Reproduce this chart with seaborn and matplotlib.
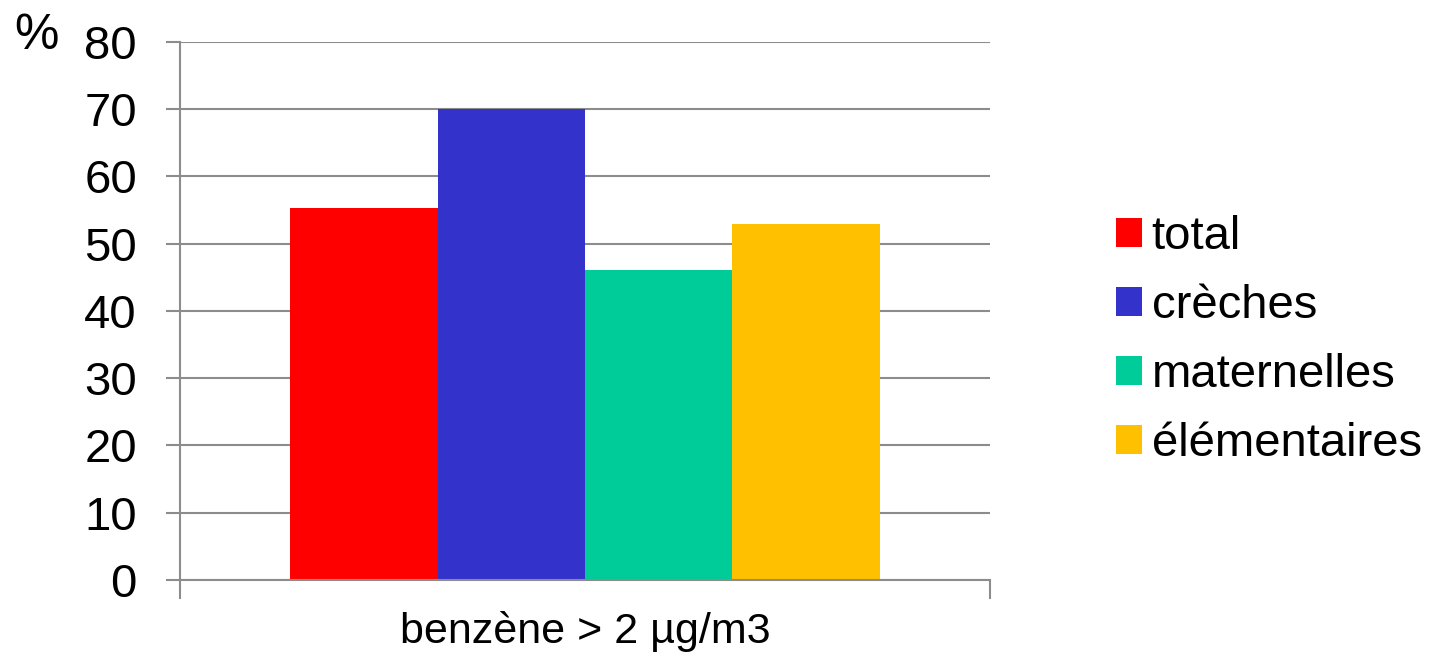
import matplotlib
matplotlib.use("Agg")
import matplotlib.pyplot as plt
import seaborn as sns
import pandas as pd
from matplotlib.patches import Patch

# Data
category = ["benzène > 2 µg/m3"]
groups = ["total", "crèches", "maternelles", "élémentaires"]
values = [55.3, 70.0, 46.1, 53.0]
colors = ["#FF0000", "#3333CC", "#00CC99", "#FFC000"]
yticks = [0, 10, 20, 30, 40, 50, 60, 70, 80]

df = pd.DataFrame({"cat": category * len(groups), "group": groups, "value": values})

sns.set_theme(style="white")
plt.rcParams['font.family'] = ['Liberation Sans', 'DejaVu Sans']

fig = plt.figure(figsize=(14.31, 6.53), dpi=100)
ax = fig.add_axes([0.1258, 0.1118, 0.566, 0.8239])

sns.barplot(data=df, x="cat", y="value", hue="group", palette=colors,
            width=0.728, saturation=1, linewidth=0, ax=ax, legend=False)

grid_c = "#8C8C8C"
ax.set_ylim(0, 80)
ax.set_xlim(-0.5, 0.5)
ax.set_yticks(yticks)
ax.set_yticklabels([str(v) for v in yticks])
ax.yaxis.grid(True, color=grid_c, linewidth=1.5)
ax.set_axisbelow(True)
for s in ["top", "right"]:
    ax.spines[s].set_visible(False)
for s in ["left", "bottom"]:
    ax.spines[s].set_color(grid_c)
    ax.spines[s].set_linewidth(1.5)

ax.tick_params(axis="y", which="major", direction="out", length=10, width=1.5,
               color=grid_c, labelsize=34, labelcolor="black", pad=21, left=True)
ax.tick_params(axis="x", which="major", length=0, labelsize=31, labelcolor="black", pad=22)
ax.set_xticks([-0.5, 0.5], minor=True)
ax.tick_params(axis="x", which="minor", direction="out", length=14, width=1.5,
               color=grid_c, bottom=True)
ax.set_xlabel("")
ax.set_ylabel("")

fig.text(0.010, 0.925, "%", fontsize=36, color="black")

handles = [Patch(facecolor=c, edgecolor="none") for c in colors]
leg = fig.legend(handles, groups, loc="center left", bbox_to_anchor=(0.7635, 0.478),
                 frameon=False, fontsize=34, handlelength=0.55, handleheight=0.55,
                 handletextpad=0.2, labelspacing=0.53, borderpad=0)
for t in leg.get_texts():
    t.set_color("black")

plt.savefig("out.png", dpi=100, facecolor="white")
plt.close()
